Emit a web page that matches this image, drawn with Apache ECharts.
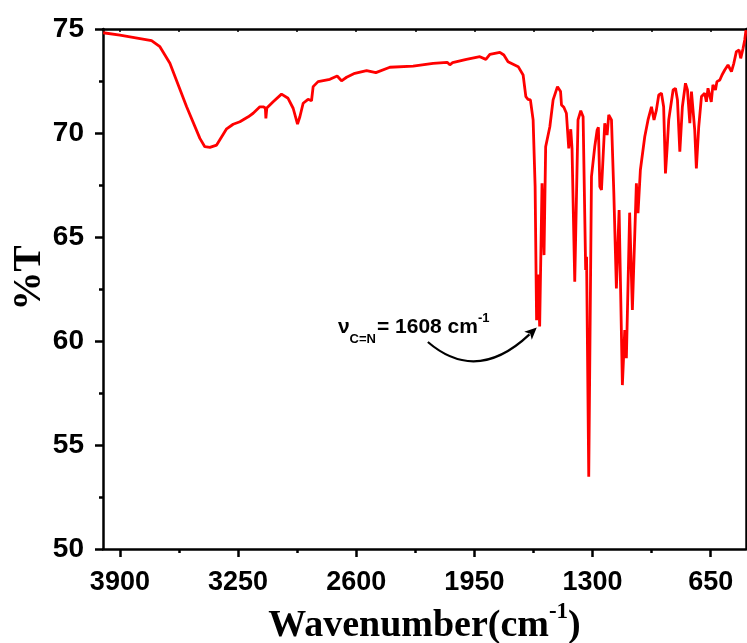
<!DOCTYPE html>
<html>
<head>
<meta charset="utf-8">
<script src="https://cdn.jsdelivr.net/npm/echarts@6/dist/echarts.min.js"></script>
<style>
  html, body { margin: 0; padding: 0; background: #fff; }
  #chart { width: 747px; height: 643px; }
</style>
</head>
<body>
<div id="chart"></div>
<script>
// IR spectrum
const wavenumbers = [
  3992, 3900, 3726, 3680, 3625, 3533, 3460, 3433, 3405, 3368, 3313, 3277, 3240, 3194, 3167,
  3130, 3112, 3100, 3097, 3092, 3057, 3011, 2975, 2947, 2923, 2910, 2892, 2865, 2846, 2837,
  2810, 2745, 2705, 2681, 2653, 2608, 2543, 2492, 2415, 2287, 2177, 2100, 2085, 2070, 1994,
  1920, 1887, 1865, 1810, 1788, 1765, 1755, 1709, 1682, 1667, 1655, 1642, 1627, 1616, 1608,
  1600, 1591, 1578, 1567, 1558, 1535, 1517, 1493, 1476, 1471, 1458, 1444, 1431, 1420, 1413,
  1398, 1380, 1365, 1352, 1338, 1333, 1321, 1306, 1288, 1275, 1268, 1260, 1251, 1233, 1220,
  1211, 1196, 1183, 1169, 1154, 1136, 1123, 1114, 1096, 1081, 1059, 1050, 1037, 1013, 995,
  976, 962, 949, 936, 921, 909, 899, 890, 881, 857, 844, 833, 820, 806, 789,
  778, 765, 756, 747, 738, 729, 716, 701, 683, 674, 665, 656, 647, 638, 624,
  616, 600, 588, 573, 555, 545, 536, 523, 509, 494, 485, 472, 463, 456
];
const transmittance = [
  74.82, 74.70, 74.44, 74.15, 73.35, 71.26, 69.74, 69.34, 69.31, 69.42, 70.20, 70.42, 70.54, 70.78, 70.95,
  71.26, 71.26, 71.20, 70.70, 71.20, 71.50, 71.87, 71.67, 71.19, 70.43, 70.78, 71.43, 71.62, 71.55, 72.23,
  72.47, 72.58, 72.74, 72.51, 72.68, 72.87, 73.00, 72.90, 73.16, 73.22, 73.35, 73.40, 73.28, 73.38, 73.54,
  73.67, 73.54, 73.78, 73.88, 73.75, 73.43, 73.38, 73.19, 72.79, 71.75, 71.62, 71.59, 70.63, 67.42, 61.00,
  63.20, 60.70, 67.58, 64.13, 69.34, 70.30, 71.59, 72.23, 71.99, 71.35, 71.24, 70.95, 69.26, 70.18, 69.26,
  62.85, 70.63, 71.07, 70.78, 63.41, 64.05, 53.48, 67.90, 69.34, 70.14, 70.27, 67.42, 67.26, 70.47, 69.90,
  70.87, 70.63, 67.10, 62.53, 66.30, 57.88, 60.53, 59.17, 66.17, 61.49, 67.58, 66.14, 68.22, 69.82, 70.63,
  71.26, 70.63, 71.10, 71.83, 71.91, 71.26, 68.06, 69.26, 70.63, 72.07, 72.15, 71.59, 69.10, 71.26, 72.39,
  72.07, 70.47, 71.99, 72.07, 70.14, 68.30, 70.30, 71.75, 71.91, 71.50, 72.15, 72.07, 71.50, 72.31, 72.07,
  72.47, 72.55, 72.79, 73.03, 73.27, 73.19, 72.95, 73.35, 73.91, 73.99, 73.59, 74.07, 74.47, 74.95
];

const xMajorTicks = [3900, 3250, 2600, 1950, 1300, 650];
const xMinorTicks = [3575, 2925, 2275, 1625, 975];

// annotation: label baseline start, arrow start, curve control, arrow tip (wavenumber, %T)
const noteAnchor = [2701, 60.38];
const arrowStart = [2206, 59.95];
const arrowCtrl = [1937, 57.93];
const arrowTip = [1607, 60.65];

const sansBold = 'Arial, "Liberation Sans", sans-serif';
const serif = '"Times New Roman", "Liberation Serif", serif';

const chart = echarts.init(document.getElementById('chart'), null, { renderer: 'canvas' });

const xBase = {
  type: 'value',
  min: 456,
  max: 3993,
  inverse: true,
  splitLine: { show: false },
  axisPointer: { show: false }
};

chart.setOption({
  backgroundColor: '#fff',
  animation: false,
  grid: { left: 103, right: 1, top: 29, bottom: 94, containLabel: false, outerBoundsMode: 'none' },
  xAxis: [
    {
      ...xBase,
      position: 'bottom',
      axisLine: { show: true, lineStyle: { color: '#000', width: 2.5 } },
      axisTick: { show: true, customValues: xMajorTicks, length: 8, lineStyle: { color: '#000', width: 2.5 } },
      axisLabel: {
        customValues: xMajorTicks, margin: 20,
        formatter: (v) => String(v),
        color: '#000', fontSize: 27, fontWeight: 'bold', fontFamily: sansBold
      },
      name: '{a|Wavenumber(cm}{s|-1}{a|)}',
      nameLocation: 'middle',
      nameGap: 51,
      nameTextStyle: {
        rich: {
          a: { fontSize: 38, fontWeight: 'bold', fontFamily: serif, color: '#000', lineHeight: 44, verticalAlign: 'bottom' },
          s: { fontSize: 23, fontWeight: 'bold', fontFamily: serif, color: '#000', lineHeight: 30, verticalAlign: 'top' }
        }
      }
    },
    {
      ...xBase,
      position: 'bottom',
      axisLine: { show: false },
      axisTick: { show: true, customValues: xMinorTicks, length: 4, lineStyle: { color: '#000', width: 2.5 } },
      axisLabel: { show: false }
    },
    {
      ...xBase,
      position: 'top',
      axisLine: { show: true, lineStyle: { color: '#000', width: 2.5 } },
      axisTick: { show: true, inside: true, customValues: xMajorTicks.concat(xMinorTicks), length: 3, lineStyle: { color: '#000', width: 1.5 } },
      axisLabel: { show: false }
    }
  ],
  yAxis: [
    {
      type: 'value',
      min: 50,
      max: 75,
      interval: 5,
      position: 'left',
      splitLine: { show: false },
      axisLine: { show: true, lineStyle: { color: '#000', width: 2.5 } },
      axisTick: { show: true, length: 8, lineStyle: { color: '#000', width: 2.5 } },
      minorTick: { show: true, splitNumber: 2, length: 4, lineStyle: { color: '#000', width: 2.5 } },
      axisLabel: { margin: 19, color: '#000', fontSize: 28, fontWeight: 'bold', fontFamily: sansBold },
      name: '%T',
      nameLocation: 'middle',
      nameRotate: 90,
      nameGap: 54,
      nameMoveOverlap: false,
      nameTextStyle: { fontSize: 39, fontWeight: 'bold', fontFamily: serif, color: '#000', padding: [0, 0, 0, 22] }
    },
    {
      type: 'value',
      min: 50,
      max: 75,
      position: 'right',
      splitLine: { show: false },
      axisLine: { show: true, lineStyle: { color: '#000', width: 2.5 } },
      axisTick: { show: false },
      axisLabel: { show: false }
    }
  ],
  series: [
    {
      type: 'line',
      xAxisIndex: 0,
      yAxisIndex: 0,
      data: wavenumbers.map((w, i) => [w, transmittance[i]]),
      showSymbol: false,
      symbol: 'none',
      smooth: false,
      lineStyle: { color: '#ff0000', width: 2.8 }
    }
  ]
});

// C=N annotation and curved arrow, placed from data space
const toPx = (p) => chart.convertToPixel({ xAxisIndex: 0, yAxisIndex: 0 }, p);
const measure = document.createElement('canvas').getContext('2d');
const textW = (txt, size) => {
  measure.font = 'bold ' + size + 'px ' + sansBold;
  return measure.measureText(txt).width;
};

const a = toPx(noteAnchor);
// pieces: text, font size, baseline shift
const pieces = [
  ['ν', 21, 0],
  ['C=N', 13, 10],
  ['= 1608 cm', 21, 0],
  ['-1', 13, -11]
];
const noteParts = [];
let cx = a[0];
pieces.forEach(([txt, size, shift]) => {
  noteParts.push({
    type: 'text',
    x: cx,
    y: a[1] + shift + size * 0.21,
    style: {
      text: txt,
      fontSize: size,
      fontWeight: 'bold',
      fontFamily: sansBold,
      fill: '#000',
      verticalAlign: 'bottom'
    }
  });
  cx += textW(txt, size) + (txt === 'C=N' ? 1 : 0);
});

const s = toPx(arrowStart);
const c = toPx(arrowCtrl);
const t = toPx(arrowTip);
const dx = t[0] - c[0], dy = t[1] - c[1];
const len = Math.hypot(dx, dy);
const ux = dx / len, uy = dy / len;
const headLen = 12, headHalf = 5.5;
const base = [t[0] - ux * headLen, t[1] - uy * headLen];

chart.setOption({
  graphic: noteParts.concat([
    {
      type: 'bezierCurve',
      shape: { x1: s[0], y1: s[1], x2: base[0] + ux * 2, y2: base[1] + uy * 2, cpx1: c[0], cpy1: c[1] },
      style: { stroke: '#000', lineWidth: 2.2, fill: null }
    },
    {
      type: 'polygon',
      shape: {
        points: [
          t,
          [base[0] - uy * headHalf, base[1] + ux * headHalf],
          [base[0] + ux * 3, base[1] + uy * 3],
          [base[0] + uy * headHalf, base[1] - ux * headHalf]
        ]
      },
      style: { fill: '#000' }
    }
  ])
});
</script>
</body>
</html>
